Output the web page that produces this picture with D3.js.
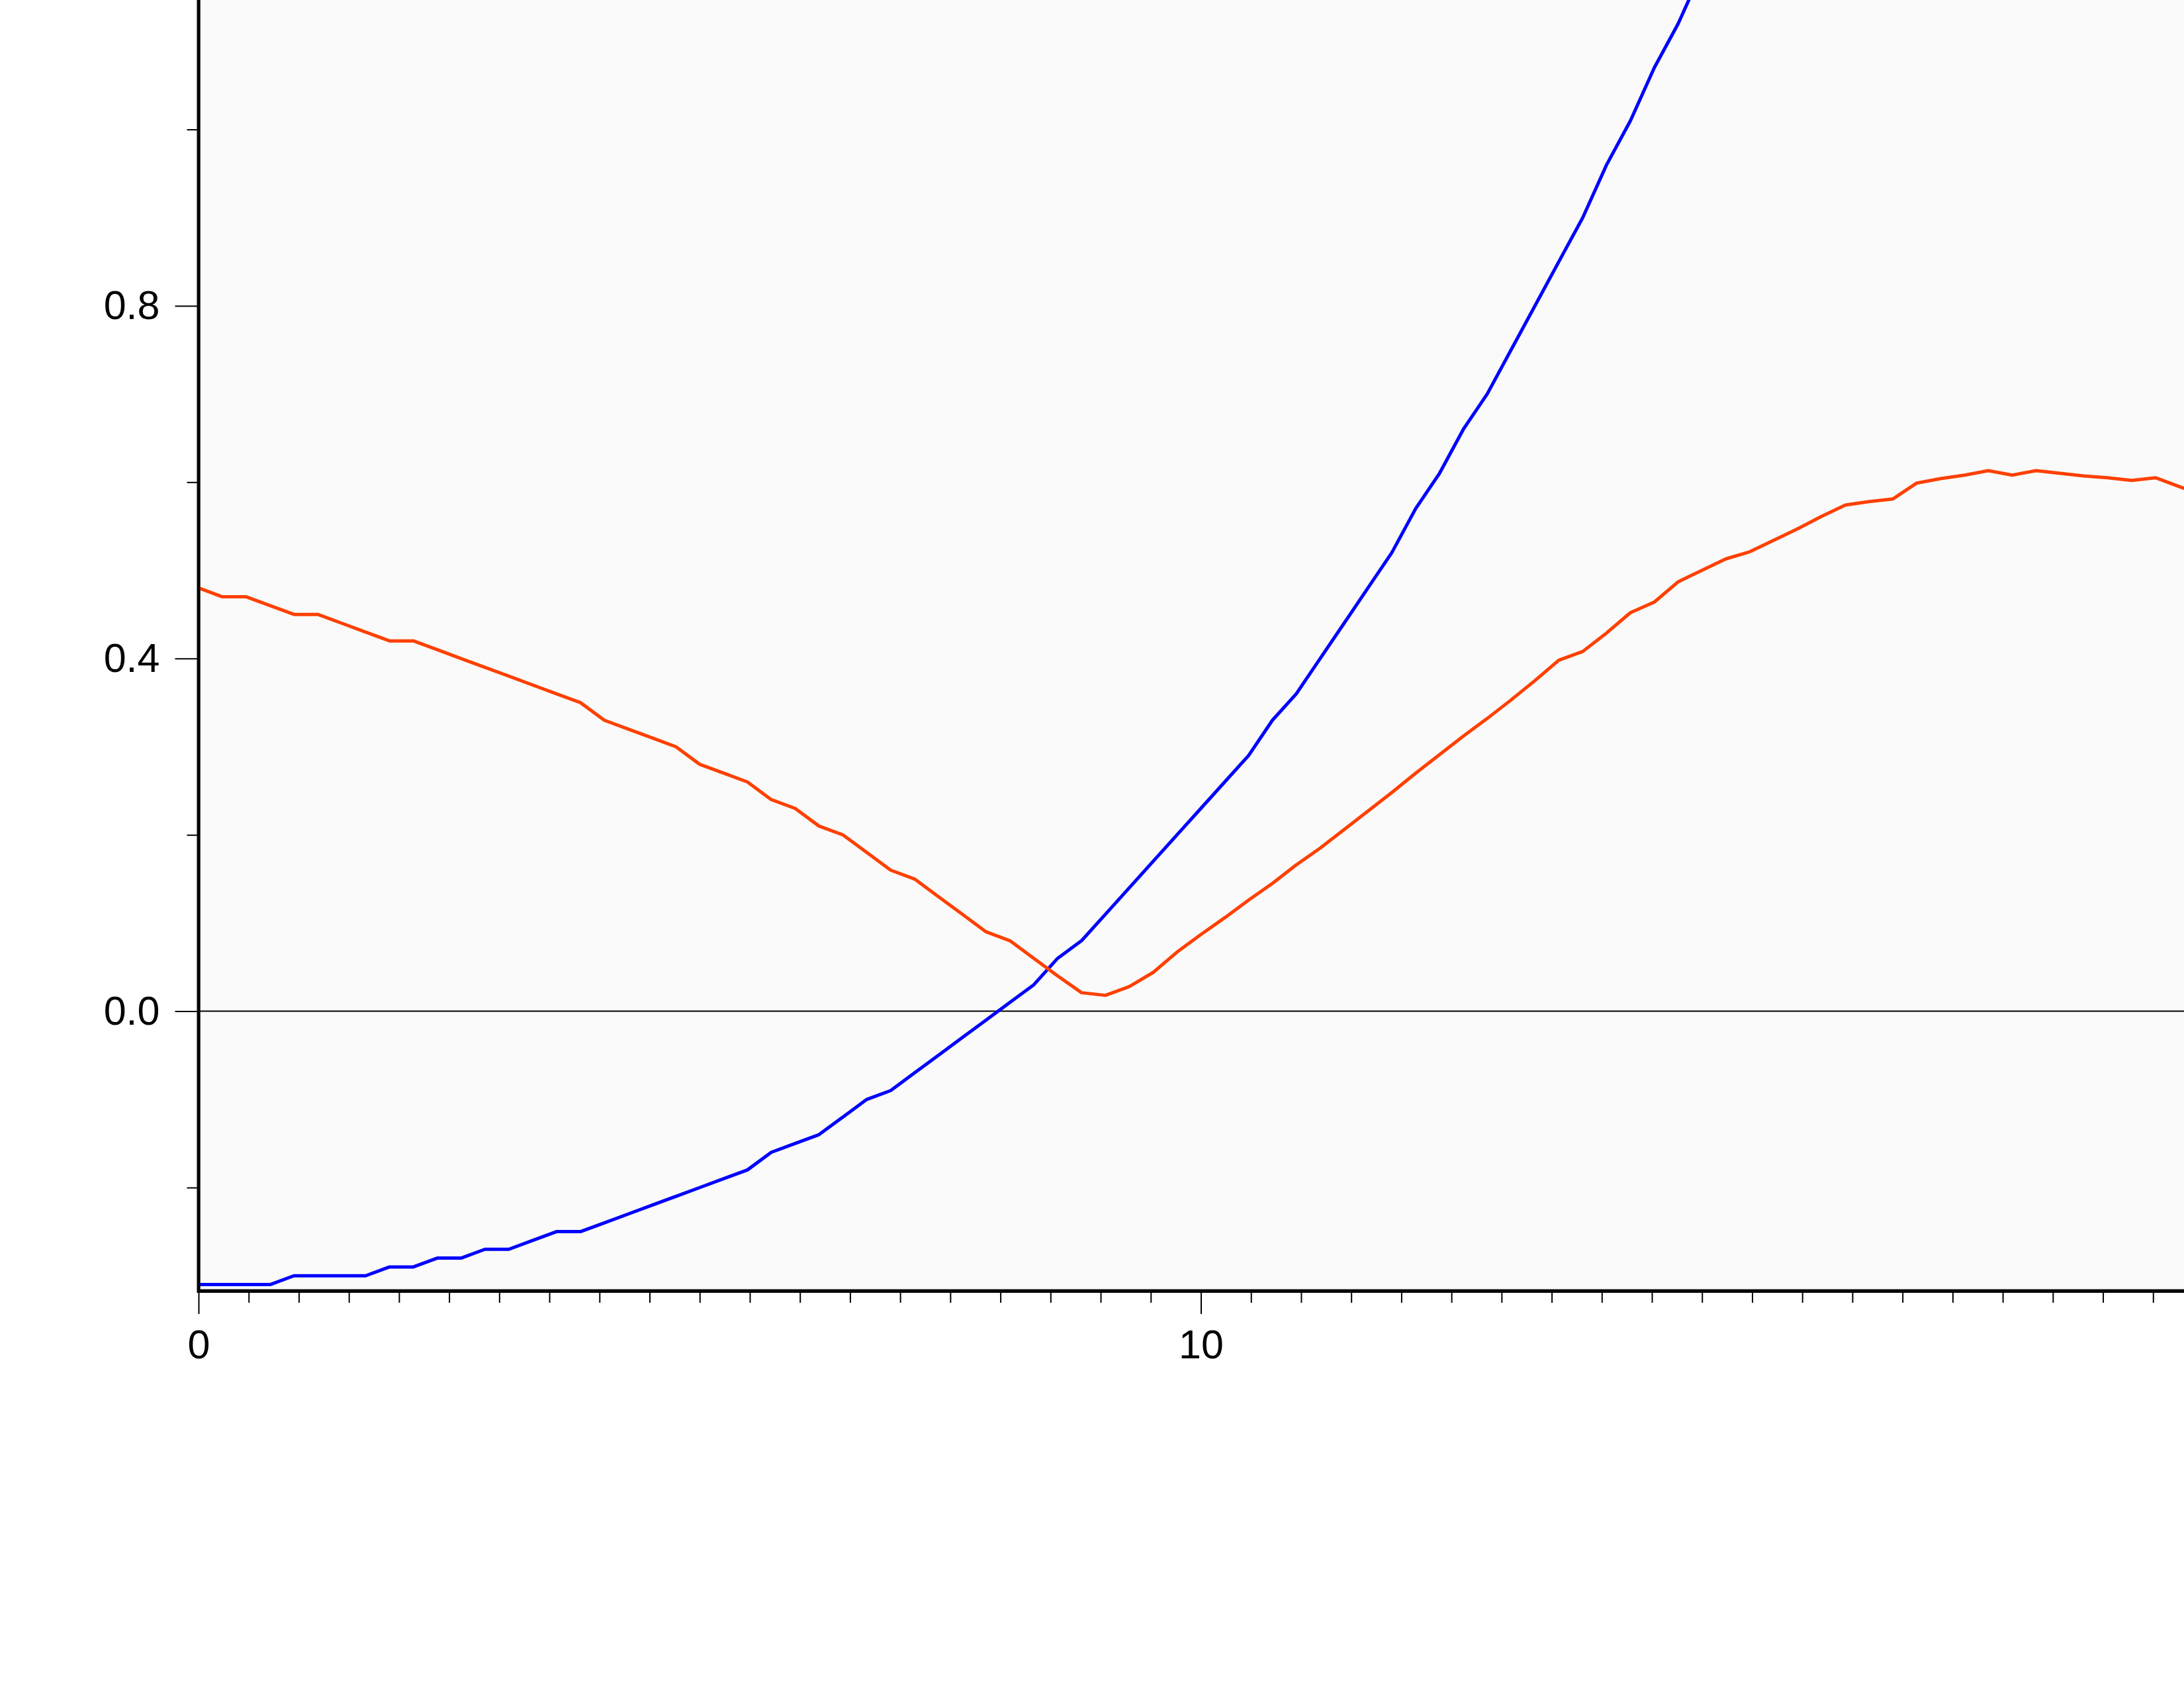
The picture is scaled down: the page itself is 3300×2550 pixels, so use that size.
<!DOCTYPE html>
<html>
<head>
<meta charset="utf-8">
<script src="https://cdn.jsdelivr.net/npm/d3@7"></script>
<style>
  html, body { margin: 0; padding: 0; background: #ffffff; }
  svg { display: block; }
</style>
</head>
<body>
<svg id="chart" width="3300" height="2550"></svg>
<script>
// ---- data ----
const xValues = [
  0, 0.238, 0.476, 0.714, 0.952, 1.190, 1.429, 1.667, 1.905, 2.143,
  2.381, 2.619, 2.857, 3.095, 3.333, 3.571, 3.810, 4.048, 4.286, 4.524,
  4.762, 5.000, 5.238, 5.476, 5.714, 5.952, 6.190, 6.429, 6.667, 6.905,
  7.143, 7.381, 7.619, 7.857, 8.095, 8.333, 8.571, 8.810, 9.048, 9.286,
  9.524, 9.762, 10.000, 10.238, 10.476, 10.714, 10.952, 11.190, 11.429, 11.667,
  11.905, 12.143, 12.381, 12.619, 12.857, 13.095, 13.333, 13.571, 13.810, 14.048,
  14.286, 14.524, 14.762, 15.000, 15.238, 15.476, 15.714, 15.952, 16.190, 16.429,
  16.667, 16.905, 17.143, 17.381, 17.619, 17.857, 18.095, 18.333, 18.571, 18.810,
  19.048, 19.286, 19.524, 19.762, 20.000
];

const seriesRed = [
  0.48, 0.47, 0.47, 0.46, 0.45, 0.45, 0.44, 0.43, 0.42, 0.42,
  0.41, 0.40, 0.39, 0.38, 0.37, 0.36, 0.35, 0.33, 0.32, 0.31,
  0.30, 0.28, 0.27, 0.26, 0.24, 0.23, 0.21, 0.20, 0.18, 0.16,
  0.15, 0.13, 0.11, 0.09, 0.08, 0.06, 0.04, 0.021, 0.018, 0.028,
  0.044, 0.067, 0.087, 0.106, 0.126, 0.145, 0.166, 0.185, 0.206, 0.227,
  0.248, 0.270, 0.291, 0.312, 0.332, 0.353, 0.375, 0.398, 0.408, 0.429,
  0.452, 0.464, 0.487, 0.500, 0.513, 0.521, 0.534, 0.547, 0.561, 0.574,
  0.578, 0.581, 0.599, 0.604, 0.608, 0.613, 0.608, 0.613, 0.610, 0.607,
  0.605, 0.602, 0.605, 0.595, 0.585
];

const seriesBlue = [
  -0.31, -0.31, -0.31, -0.31, -0.30, -0.30, -0.30, -0.30, -0.29, -0.29,
  -0.28, -0.28, -0.27, -0.27, -0.26, -0.25, -0.25, -0.24, -0.23, -0.22,
  -0.21, -0.20, -0.19, -0.18, -0.16, -0.15, -0.14, -0.12, -0.10, -0.09,
  -0.07, -0.05, -0.03, -0.01, 0.01, 0.03, 0.06, 0.08, 0.11, 0.14,
  0.17, 0.20, 0.23, 0.26, 0.29, 0.33, 0.36, 0.40, 0.44, 0.48,
  0.52, 0.57, 0.61, 0.66, 0.70, 0.75, 0.80, 0.85, 0.90, 0.96,
  1.01, 1.07, 1.12, 1.18
];

const xTickLabels = [0, 10];
const xMinorTicks = [0.5, 1, 1.5, 2, 2.5, 3, 3.5, 4, 4.5, 5, 5.5, 6, 6.5, 7, 7.5, 8, 8.5, 9, 9.5,
                     10.5, 11, 11.5, 12, 12.5, 13, 13.5, 14, 14.5, 15, 15.5, 16, 16.5, 17, 17.5, 18, 18.5, 19, 19.5];
const yTickLabels = [0.0, 0.4, 0.8];
const yMinorTicks = [-0.2, 0.2, 0.6, 1.0];

// ---- layout ----
const FONT = "'Liberation Sans', Arial, Helvetica, sans-serif";
const svg = d3.select("#chart");
const left = 300, bottom = 1950, right = 3300;

const x = d3.scaleLinear().domain([0, 19.81]).range([left, left + 19.81 * 151.45]);
const y = d3.scaleLinear().domain([-0.3171, 1.1468]).range([bottom, 0]);

svg.append("rect").attr("x", 0).attr("y", 0).attr("width", 3300).attr("height", 2550).attr("fill", "#ffffff");

// plot background
svg.append("rect")
  .attr("x", left).attr("y", 0)
  .attr("width", right - left).attr("height", bottom - 0)
  .attr("fill", "#fafafa");
svg.append("line").attr("x1", left + 2.5).attr("x2", left + 2.5).attr("y1", 0).attr("y2", bottom)
  .attr("stroke", "#999").attr("stroke-width", 1);
svg.append("line").attr("x1", left).attr("x2", right).attr("y1", bottom - 2.5).attr("y2", bottom - 2.5)
  .attr("stroke", "#999").attr("stroke-width", 1);

// zero line
svg.append("line")
  .attr("x1", x(0)).attr("x2", right)
  .attr("y1", y(0)).attr("y2", y(0))
  .attr("stroke", "#000").attr("stroke-width", 2);

// series
const line = d3.line()
  .x((d, i) => x(xValues[i]))
  .y(d => y(d));

svg.append("path").datum(seriesBlue)
  .attr("d", line).attr("fill", "none")
  .attr("stroke", "#0000ff").attr("stroke-width", 5)
  .attr("stroke-linejoin", "round");

svg.append("path").datum(seriesRed)
  .attr("d", line).attr("fill", "none")
  .attr("stroke", "#ff4000").attr("stroke-width", 5)
  .attr("stroke-linejoin", "round");

// x axis
const gxMinor = svg.append("g").attr("transform", `translate(0,${bottom})`)
  .call(d3.axisBottom(x).tickValues(xMinorTicks).tickSize(18).tickSizeOuter(0).tickFormat(""));
gxMinor.select(".domain").remove();
gxMinor.selectAll(".tick line").attr("stroke", "#000").attr("stroke-width", 2);

const gx = svg.append("g").attr("transform", `translate(0,${bottom})`)
  .call(d3.axisBottom(x).tickValues(xTickLabels).tickSize(35).tickSizeOuter(0).tickPadding(24)
    .tickFormat(d3.format("d")));
gx.select(".domain").attr("stroke", "#000").attr("stroke-width", 5).attr("stroke-linecap", "square");
gx.selectAll(".tick line").attr("stroke", "#000").attr("stroke-width", 2);
gx.selectAll(".tick text").attr("font-family", FONT).attr("font-size", 61).attr("fill", "#000");

// y axis
const gyMinor = svg.append("g").attr("transform", `translate(${left - 0.5},0)`)
  .call(d3.axisLeft(y).tickValues(yMinorTicks).tickSize(17).tickSizeOuter(0).tickFormat(""));
gyMinor.select(".domain").remove();
gyMinor.selectAll(".tick line").attr("stroke", "#000").attr("stroke-width", 2);

const gy = svg.append("g").attr("transform", `translate(${left - 0.5},0)`)
  .call(d3.axisLeft(y).tickValues(yTickLabels).tickSize(35).tickSizeOuter(0).tickPadding(23)
    .tickFormat(d3.format(".1f")));
gy.select(".domain").attr("stroke", "#000").attr("stroke-width", 5).attr("stroke-linecap", "square");
gy.selectAll(".tick line").attr("stroke", "#000").attr("stroke-width", 2);
gy.selectAll(".tick text").attr("font-family", FONT).attr("font-size", 61).attr("fill", "#000");
</script>
</body>
</html>
